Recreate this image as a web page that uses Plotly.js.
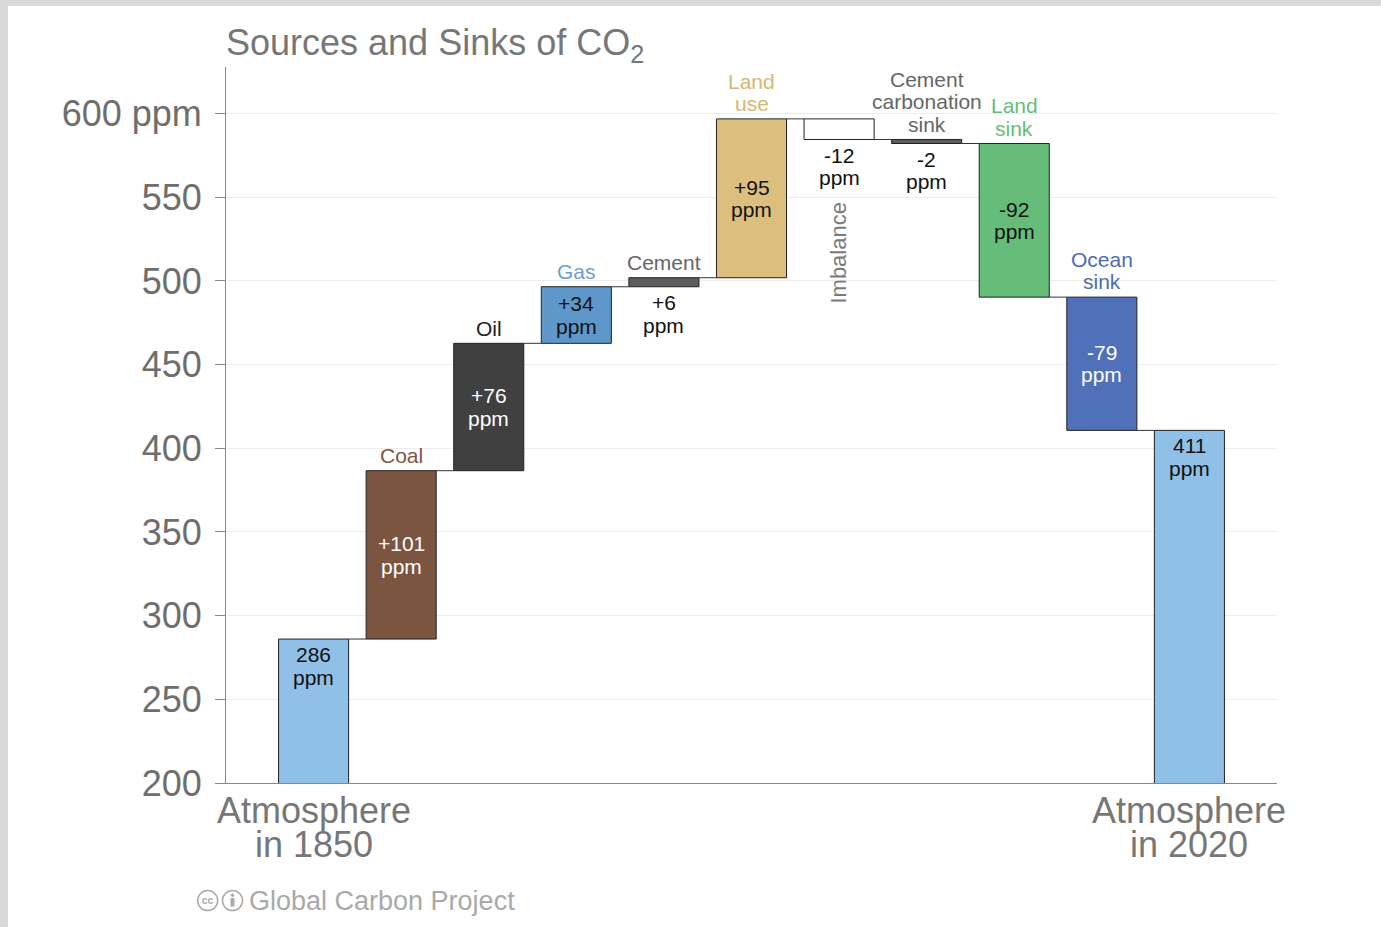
<!DOCTYPE html>
<html><head><meta charset="utf-8">
<script src="https://cdn.plot.ly/plotly-3.0.1.min.js"></script>
<style>
html,body{margin:0;padding:0;background:#d9d9d9;width:1381px;height:927px;overflow:hidden}
#chart{position:absolute;left:8px;top:6px;width:1373px;height:921px;background:#fff}
</style></head><body><div id="chart"></div>
<script>
// ---- data ----
const categories = ["Atmosphere in 1850","Coal","Oil","Gas","Cement","Land use","Imbalance","Cement carbonation sink","Land sink","Ocean sink","Atmosphere in 2020"];
const changes = [286, 100.6, 76.1, 33.8, 5.4, 94.9, -12.3, -2.4, -91.8, -79.6, 410.7];
const isTotal = [true, false, false, false, false, false, false, false, false, false, true];
const valueLabels = ["286","+101","+76","+34","+6","+95","-12","-2","-92","-79","411"];
const unitLabel = "ppm";
const nameLines = [[],["Coal"],["Oil"],["Gas"],["Cement"],["Land","use"],["Imbalance"],["Cement","carbonation","sink"],["Land","sink"],["Ocean","sink"],[]];
const axisLabelLine1 = ["Atmosphere","","","","","","","","","","Atmosphere"];
const axisLabelLine2 = ["in 1850","","","","","","","","","","in 2020"];
const yTickVals = [200,250,300,350,400,450,500,550,600];
const yTickText = ["200","250","300","350","400","450","500","550","600 ppm"];
const titleText = "Sources and Sinks of CO<sub>2</sub>";
const footerText = "Global Carbon Project";

// ---- styles ----
const FONT = "Liberation Sans, Arial, Helvetica, sans-serif";
const barColors = ["#90bfe8","#7b5540","#404040","#5e97c9","#5e5e5e","#dcbf7c","#ffffff","#5e5e5e","#66bd7a","#5071ba","#90bfe8"];
const nameColors = ["","#7b5641","#222222","#6b9fcf","#666666","#d6b872","#7a7a7a","#666666","#66bd7a","#4e6cb3",""];
const valueColors = ["#111","#fff","#fff","#111","#111","#111","#111","#111","#111","#fff","#111"];
const rotatedName = [false,false,false,false,false,false,true,false,false,false,false];

// ---- derived geometry ----
const xs = categories.map((c,i)=>i);
const bases = [], heights = [], levels = [];
let run = 0;
changes.forEach((v,i)=>{
  if (isTotal[i]) { bases.push(0); heights.push(v); run = v; }
  else if (v >= 0) { bases.push(run); heights.push(v); run += v; }
  else { bases.push(run + v); heights.push(-v); run += v; }
  levels.push(run);
});

const BW = 0.8;
const cx = [], cy = [];
for (let i = 0; i < xs.length - 1; i++) {
  cx.push(xs[i] + BW/2, xs[i+1] - BW/2, null);
  cy.push(levels[i], levels[i], null);
}

const traces = [
  {type:'scatter', mode:'lines', x:cx, y:cy, line:{color:'#333', width:1}, hoverinfo:'skip', showlegend:false},
  {type:'bar', x:xs, y:heights, base:bases, width:BW,
   marker:{color:barColors, line:{color:'#222', width:1}}, hoverinfo:'skip', showlegend:false}
];

const ann = [];
const LS = 22.5;
xs.forEach((x,i)=>{
  const top = bases[i] + heights[i];
  const lines = [valueLabels[i], unitLabel];
  let mode = isTotal[i] ? 'top' : (heights[i] < 15 ? 'below' : 'center');
  lines.forEach((t,k)=>{
    let y, ys;
    if (mode === 'top') { y = top; ys = -15.5 - k*LS; }
    else if (mode === 'below') { y = bases[i]; ys = -16 - k*LS; }
    else { y = bases[i] + heights[i]/2; ys = 11.25 - k*LS; }
    ann.push({x:x, y:y, xref:'x', yref:'y', text:t, showarrow:false, xanchor:'center', yanchor:'middle',
      yshift:ys, borderpad:0, font:{family:FONT, size:21, color:valueColors[i]}});
  });
  const nl = nameLines[i];
  if (rotatedName[i]) {
    ann.push({x:x, y:bases[i], xref:'x', yref:'y', text:nl[0], showarrow:false, textangle:-90,
      xanchor:'center', yanchor:'middle', xshift:-1, yshift:-113, borderpad:0,
      font:{family:FONT, size:22, color:nameColors[i]}});
  } else {
    nl.forEach((t,k)=>{
      ann.push({x:x, y:top, xref:'x', yref:'y', text:t, showarrow:false, xanchor:'center', yanchor:'middle',
        yshift:15.3 + (nl.length-1-k)*22.5, borderpad:0, font:{family:FONT, size:21, color:nameColors[i]}});
    });
  }
  if (axisLabelLine1[i]) {
    ann.push({x:x, y:0, xref:'x', yref:'paper', text:axisLabelLine1[i], showarrow:false, xanchor:'center', yanchor:'middle',
      yshift:-27.2, borderpad:0, font:{family:FONT, size:36, color:'#777'}});
    ann.push({x:x, y:0, xref:'x', yref:'paper', text:axisLabelLine2[i], showarrow:false, xanchor:'center', yanchor:'middle',
      yshift:-61.5, borderpad:0, font:{family:FONT, size:36, color:'#777'}});
  }
});

// pixel helpers (absolute image pixels -> paper coords of plot area)
const PL = 226, PR = 1276.7, PT = 66.7, PB = 783.3;
const px = v => (v - PL)/(PR - PL);
const py = v => (PB - v)/(PB - PT);

ann.push({x:px(248), y:py(901), xref:'paper', yref:'paper', text:footerText, showarrow:false,
  xanchor:'left', yanchor:'middle', borderpad:0, font:{family:FONT, size:27, color:'#a9a9a9'}});
ann.push({x:px(207.7), y:py(901), xref:'paper', yref:'paper', text:'<b>cc</b>', showarrow:false,
  xanchor:'center', yanchor:'middle', borderpad:0, font:{family:FONT, size:10, color:'#a9a9a9'}});

const shapes = [
  {type:'circle', xref:'paper', yref:'paper', x0:px(197.7), x1:px(217.7), y0:py(911), y1:py(891), line:{color:'#aaa', width:1.5}},
  {type:'circle', xref:'paper', yref:'paper', x0:px(222.5), x1:px(242.5), y0:py(911), y1:py(891), line:{color:'#aaa', width:1.5}},
  {type:'circle', xref:'paper', yref:'paper', x0:px(230.8), x1:px(234.2), y0:py(897.5), y1:py(894), fillcolor:'#aaa', line:{width:0}},
  {type:'rect', xref:'paper', yref:'paper', x0:px(230.5), x1:px(234.5), y0:py(907), y1:py(898.5), fillcolor:'#aaa', line:{width:0}}
];

const layout = {
  width:1373, height:921,
  margin:{l:218, r:104.3, t:60.7, b:143.7, pad:0},
  paper_bgcolor:'#fff', plot_bgcolor:'#fff',
  showlegend:false,
  title:{text:titleText, x:0, xref:'paper', xanchor:'left', y:0.9605, yref:'container', yanchor:'middle',
    font:{family:FONT, size:36, color:'#777'}},
  xaxis:{range:[-1,11], showgrid:false, zeroline:false, showticklabels:false, ticks:'',
    showline:true, linecolor:'#888', linewidth:1, fixedrange:true},
  yaxis:{range:[200,627.8], tickvals:yTickVals, ticktext:yTickText, ticks:'outside', ticklen:10, tickcolor:'#888',
    ticklabelstandoff:6, showline:true, linecolor:'#888', linewidth:1, gridcolor:'#ececec', zeroline:false,
    tickfont:{family:FONT, size:36, color:'#6e6e6e'}, fixedrange:true},
  annotations:ann, shapes:shapes
};

Plotly.newPlot('chart', traces, layout, {displayModeBar:false, staticPlot:true});
</script></body></html>
